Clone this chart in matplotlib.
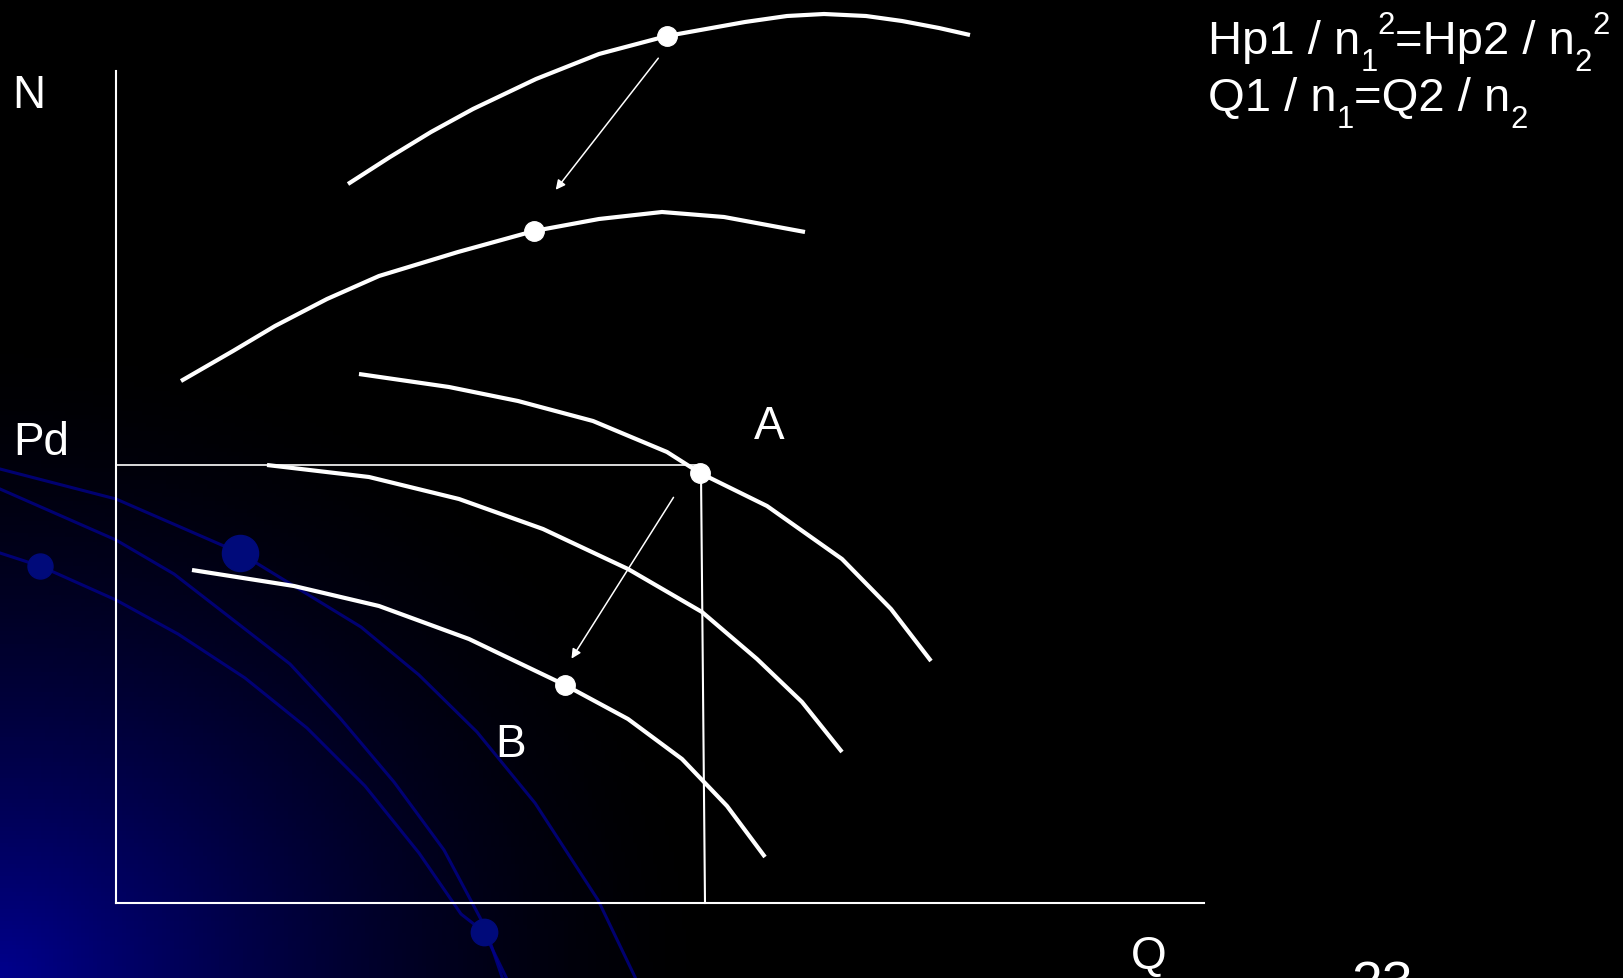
import numpy as np
import matplotlib.pyplot as plt
from matplotlib.colors import LinearSegmentedColormap

plt.rcParams['font.family'] = ['Liberation Sans', 'DejaVu Sans']

# pump curves, Q along the axis, N up (units)
q_top = [232, 274, 315, 357, 420, 483, 551, 629, 671, 708, 750, 786, 823, 854]
n_top = [719, 746, 771, 794, 824, 849, 867, 881, 887, 889, 887, 882, 875, 868]
q_top2 = [65, 117, 159, 211, 263, 342, 418, 483, 546, 608, 689]
n_top2 = [522, 552, 577, 604, 627, 651, 672, 684, 691, 686, 671]
q_a = [243, 333, 402, 477, 551, 584, 651, 726, 775, 815]
n_a = [529, 516, 502, 482, 451, 430, 397, 344, 294, 242]
q_mid = [151, 253, 343, 427, 512, 586, 641, 686, 726]
n_mid = [438, 426, 404, 374, 334, 291, 244, 201, 151]
q_b = [76, 178, 263, 353, 449, 512, 566, 611, 649]
n_b = [333, 317, 297, 264, 218, 184, 144, 97, 46]

# operating points
dot_q = [551, 418, 584, 449]
dot_n = [867, 672, 430, 218]

# arrows (start, end)
arrows = [((544, 847), (438, 711)), ((559, 408), (454, 242))]

pd_level = 438
q_a_point = [585, 589]
n_axis_top = 832
q_axis_end = 1088

# background template arcs
arc1_q = [-116, 0, 124, 245, 303, 361, 419, 482, 519]
arc1_n = [434, 404, 350, 276, 228, 171, 100, 3, -74]
arc2_q = [-116, 0, 58, 174, 224, 278, 328, 369, 386]
arc2_n = [414, 363, 329, 239, 185, 121, 53, -24, -74]
arc3_q = [-116, -76, 0, 62, 129, 191, 249, 303, 345, 368, 390]
arc3_n = [350, 337, 303, 269, 225, 175, 117, 50, -11, -29, -74]
arc_dot_q = [124, -76, 368]
arc_dot_n = [350, 337, -29]
arc_dot_size = [26, 18, 19]

# formula pieces: (text, level)  level 0 normal, -1 subscript, 1 superscript
formula1 = [('Hp1 / n', 0), ('1', -1), ('2', 1), ('=Hp2 / n', 0), ('2', -1), ('2', 1)]
formula2 = [('Q1 / n', 0), ('1', -1), ('=Q2 / n', 0), ('2', -1)]

fig = plt.figure(figsize=(16.23, 9.79), dpi=100)
ax = fig.add_axes([0, 0, 1, 1])
x0, x1, y0, y1 = -116, 1507, -75, 904
ax.set_xlim(x0, x1)
ax.set_ylim(y0, y1)
ax.axis('off')

# blue glow in lower-left corner
xx, yy = np.meshgrid(np.linspace(0, 1623, 400), np.linspace(0, 979, 240))
d = np.sqrt(xx ** 2 + (yy * 1.1) ** 2) / 720.0
g = np.clip(1 - d, 0, 1) ** 1.6
cmap = LinearSegmentedColormap.from_list('bg', ['#000000', '#00008c'])
ax.imshow(g, extent=(x0, x1, y0, y1), origin='lower', cmap=cmap,
          vmin=0, vmax=1, aspect='auto', zorder=0)

for aq, an in [(arc1_q, arc1_n), (arc2_q, arc2_n), (arc3_q, arc3_n)]:
    ax.plot(aq, an, color='#00008a', lw=2.2, alpha=0.8, zorder=1,
            solid_joinstyle='round')
for q, n, s in zip(arc_dot_q, arc_dot_n, arc_dot_size):
    ax.plot(q, n, 'o', ms=s, color='#000a7a', zorder=1)

# axes of the diagram
ax.plot([0, 0], [0, n_axis_top], color='white', lw=1.5, zorder=2)
ax.plot([0, q_axis_end], [0, 0], color='white', lw=1.5, zorder=2)
ax.plot([0, q_a_point[0]], [pd_level, pd_level], color='white', lw=1.2, zorder=2)
ax.plot([q_a_point[0], q_a_point[1]], [dot_n[2], 0], color='white', lw=1.5, zorder=2)

for q, n in [(q_top, n_top), (q_top2, n_top2), (q_a, n_a), (q_mid, n_mid), (q_b, n_b)]:
    ax.plot(q, n, color='white', lw=3, zorder=3, solid_joinstyle='round',
            solid_capstyle='butt')

ax.plot(dot_q, dot_n, 'o', color='white', ms=14, zorder=4)

for (sq, sn), (eq, en) in arrows:
    ax.annotate('', xy=(eq, en), xytext=(sq, sn),
                arrowprops=dict(arrowstyle='-|>', color='white', lw=1.1,
                                mutation_scale=14), zorder=4)

fs = 33
ax.text(-87, 808, 'N', color='white', fontsize=fs, ha='center', va='center')
ax.text(-75, 461, 'Pd', color='white', fontsize=fs, ha='center', va='center')
ax.text(653, 477, 'A', color='white', fontsize=fs, ha='center', va='center')
ax.text(395, 159, 'B', color='white', fontsize=fs, ha='center', va='center')
ax.text(1033, -53, 'Q', color='white', fontsize=fs, ha='center', va='center')
ax.text(1266, -57, '23', color='white', fontsize=40, ha='center', va='top')


def write_formula(pieces, q_start, n_base, size=34):
    # lay the pieces out one after the other, like the slide's sub/superscripts
    renderer = fig.canvas.get_renderer()
    q = q_start
    for s, level in pieces:
        if level == 0:
            t = ax.text(q, n_base, s, color='white', fontsize=size,
                        ha='left', va='baseline')
        else:
            shift = -17 if level < 0 else 20
            t = ax.text(q, n_base + shift, s, color='white', fontsize=size * 0.66,
                        ha='left', va='baseline')
        bb = t.get_window_extent(renderer=renderer)
        q = ax.transData.inverted().transform((bb.x1, bb.y0))[0]


write_formula(formula1, 1092, 850)
write_formula(formula2, 1092, 793)

fig.savefig('out.png', dpi=100, facecolor='black')
